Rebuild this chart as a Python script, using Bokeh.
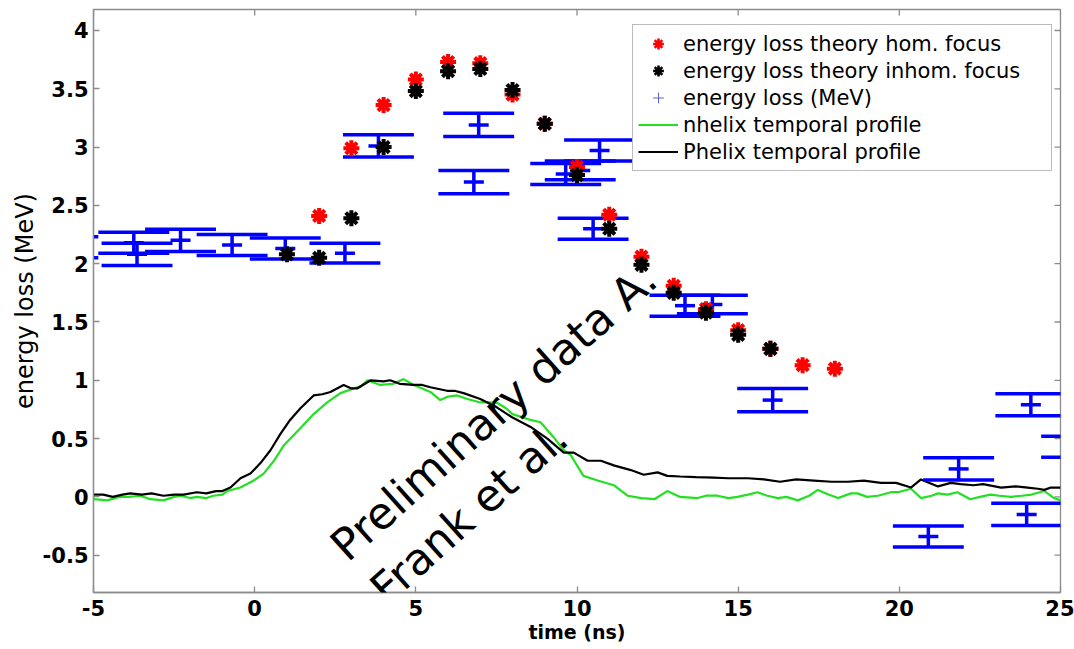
from bokeh.plotting import figure
from bokeh.models import FixedTicker, Range1d, Legend, LegendItem, Label
from bokeh.embed import file_html
from bokeh.resources import INLINE

# ---------------- data ----------------
hom_t = [2, 3, 4, 5, 6, 7, 8, 9, 10, 11, 12, 13, 14, 15, 16, 17, 18]
hom_e = [2.41, 2.99, 3.36, 3.58, 3.73, 3.72, 3.45, 3.20, 2.83, 2.42, 2.06, 1.81, 1.61, 1.43, 1.27, 1.13, 1.10]

inhom_t = [1, 2, 3, 4, 5, 6, 7, 8, 9, 10, 11, 12, 13, 14, 15, 16]
inhom_e = [2.08, 2.05, 2.39, 3.00, 3.48, 3.65, 3.67, 3.49, 3.20, 2.76, 2.30, 1.99, 1.75, 1.58, 1.39, 1.27]

meas_t = [-5.95, -3.75, -3.65, -2.3, -0.7, 0.95, 2.8, 3.84, 6.95, 6.8, 9.65, 10.1, 10.7,
          10.5, 13.35, 14.2, 16.07, 20.9, 21.84, 23.95, 24.08, 25.5]
meas_e = [2.14, 2.18, 2.08, 2.20, 2.16, 2.13, 2.09, 3.01, 3.19, 2.70, 2.77, 2.80, 2.97,
          2.30, 1.64, 1.65, 0.83, -0.34, 0.24, -0.15, 0.79, 0.43]
meas_err = [0.09, 0.09, 0.095, 0.095, 0.09, 0.09, 0.085, 0.095, 0.10, 0.10, 0.09, 0.08, 0.09,
            0.09, 0.09, 0.08, 0.10, 0.09, 0.095, 0.095, 0.095, 0.09]

phelix_t = [-5.0, -4.7, -4.4, -4.1, -3.86, -3.5, -3.2, -2.83, -2.5, -2.2, -1.8, -1.5, -1.2, -1.0,
            -0.75, -0.44, -0.13, 0.18, 0.49, 0.8, 1.1, 1.42, 1.83, 2.1, 2.35, 2.76, 3.0, 3.18, 3.6,
            4.0, 4.2, 4.5, 4.93, 5.2, 5.45, 5.97, 6.2, 6.48, 7.0, 7.5, 8.0, 8.56, 9.08, 9.59, 9.9,
            10.33, 10.74, 11.14, 11.67, 12.07, 12.5, 12.8, 13.2, 13.7, 14.24, 14.7, 15.3, 15.8,
            16.3, 16.8, 17.35, 17.9, 18.4, 18.9, 19.43, 19.9, 20.36, 20.67, 21.2, 21.6, 21.9,
            22.3, 22.6, 23.16, 23.6, 23.98, 24.3, 24.5, 24.7, 25.0]
phelix_v = [0.02, 0.02, 0.00, 0.02, 0.03, 0.02, 0.03, 0.01, 0.02, 0.02, 0.04, 0.03, 0.05, 0.05,
            0.08, 0.16, 0.20, 0.29, 0.40, 0.54, 0.66, 0.76, 0.87, 0.88, 0.90, 0.96, 0.93, 0.93, 1.00,
            0.99, 1.00, 0.97, 0.96, 0.96, 0.94, 0.91, 0.91, 0.89, 0.84, 0.77, 0.68, 0.60, 0.50, 0.38, 0.38,
            0.31, 0.31, 0.27, 0.23, 0.19, 0.21, 0.18, 0.175, 0.17, 0.165, 0.16, 0.16, 0.15,
            0.13, 0.15, 0.14, 0.13, 0.13, 0.14, 0.12, 0.12, 0.08, 0.15, 0.09, 0.12, 0.11,
            0.10, 0.11, 0.08, 0.09, 0.08, 0.07, 0.06, 0.08, 0.08]

nhelix_t = [-5.0, -4.57, -4.2, -3.9, -3.55, -3.24, -2.83, -2.5, -2.3, -2.0, -1.8, -1.5, -1.28, -1.0,
            -0.85, -0.44, -0.03, 0.28, 0.6, 0.9, 1.35, 1.83, 2.25, 2.66, 3.07, 3.3, 3.5, 3.9, 4.3,
            4.62, 4.93, 5.2, 5.45, 5.76, 6.0, 6.28, 6.6, 7.0, 7.5, 7.8, 8.0, 8.56, 8.87, 9.28, 9.59,
            9.8, 10.2, 10.64, 11.14, 11.57, 12.0, 12.4, 12.8, 13.2, 13.74, 14.0, 14.36, 14.7, 14.98,
            15.3, 15.6, 15.9, 16.23, 16.5, 16.85, 17.2, 17.47, 17.8, 18.1, 18.5, 18.7, 19.0, 19.34,
            19.74, 19.96, 20.36, 20.67, 21.0, 21.2, 21.5, 21.8, 22.2, 22.5, 22.83, 23.1, 23.46, 23.8,
            24.1, 24.5, 24.8, 25.0]
nhelix_v = [-0.02, -0.03, 0.0, 0.0, 0.01, -0.02, -0.03, 0.0, 0.01, -0.01, 0.0, -0.01, 0.01, 0.02,
            0.05, 0.08, 0.14, 0.20, 0.31, 0.44, 0.57, 0.71, 0.81, 0.89, 0.93, 0.95, 1.00, 0.96, 0.97,
            1.01, 0.96, 0.93, 0.90, 0.83, 0.86, 0.87, 0.84, 0.81, 0.81, 0.76, 0.71, 0.66, 0.64, 0.51, 0.40,
            0.36, 0.18, 0.14, 0.10, 0.01, -0.01, -0.02, 0.05, 0.00, -0.01, 0.01, 0.01, -0.01, 0.00,
            0.02, 0.04, 0.01, -0.01, 0.00, -0.03, 0.01, 0.06, 0.02, -0.01, 0.03, 0.03, 0.00, 0.01,
            0.04, 0.04, 0.07, -0.01, 0.01, 0.03, 0.02, 0.04, -0.02, 0.00, 0.02, 0.01, 0.00, 0.01,
            0.02, 0.05, -0.01, -0.03]

x_ticks = [-5, 0, 5, 10, 15, 20, 25]
x_tick_labels = ["-5", "0", "5", "10", "15", "20", "25"]
y_ticks = [-0.5, 0, 0.5, 1, 1.5, 2, 2.5, 3, 3.5, 4]
y_tick_labels = ["-0.5", "0", "0.5", "1", "1.5", "2", "2.5", "3", "3.5", "4"]

legend_labels = ["energy loss theory hom. focus", "energy loss theory inhom. focus",
                 "energy loss (MeV)", "nhelix temporal profile", "Phelix temporal profile"]
watermark = ["Preliminary data A.", "Frank et al."]

# ---------------- figure ----------------
FONT = "DejaVu Sans"
AXIS_GREY = "#8c8c8c"
BLUE = "#0000ff"
CAP_HALF = 1.1  # ns, half width of the error-bar caps
X0, X1, Y0, Y1 = -5, 25, -0.82, 4.18
TICK_PX = 6
FRAME_W, FRAME_H = 967, 583
NAN = float("nan")


def js_key(v):
    f = float(v)
    return str(int(f)) if f.is_integer() else repr(f)


def overrides(vals, labels):
    d = {}
    for v, lab in zip(vals, labels):
        d[float(v)] = lab
        d[js_key(v)] = lab
    return d


p = figure(width=1074, height=649, x_range=Range1d(X0, X1), y_range=Range1d(Y0, Y1),
           output_backend="svg", toolbar_location=None,
           min_border_left=93, min_border_right=14, min_border_top=9, min_border_bottom=57)
p.background_fill_color = "white"
p.border_fill_color = "white"
p.outline_line_color = AXIS_GREY
p.outline_line_width = 1.3
p.xgrid.visible = False
p.ygrid.visible = False


def style_axis(ax, ticks, labels):
    ax.ticker = FixedTicker(ticks=ticks)
    ax.major_label_overrides = overrides(ticks, labels)
    ax.axis_line_color = AXIS_GREY
    ax.axis_line_width = 1.3
    ax.major_tick_line_color = AXIS_GREY
    ax.major_tick_line_width = 1.3
    ax.major_tick_in = TICK_PX
    ax.major_tick_out = 0
    ax.minor_tick_line_color = None
    ax.major_label_text_font = FONT
    ax.major_label_text_font_style = "bold"
    ax.major_label_text_font_size = "21px"
    ax.major_label_text_color = "black"
    ax.axis_label_text_color = "black"
    ax.axis_label_text_font = FONT


xa = p.xaxis[0]
style_axis(xa, x_ticks, x_tick_labels)
xa.major_label_standoff = 7
xa.axis_label = "time (ns)"
xa.axis_label_text_font_style = "bold"
xa.axis_label_text_font_size = "19px"
xa.axis_label_standoff = 2

ya = p.yaxis[0]
style_axis(ya, y_ticks, y_tick_labels)
ya.major_label_standoff = 5
ya.axis_label = "energy loss (MeV)"
ya.axis_label_text_font_style = "normal"
ya.axis_label_text_font_size = "24px"
ya.axis_label_standoff = 1

# inward ticks on the top and right edges of the box
tick_dy = TICK_PX * (Y1 - Y0) / FRAME_H
tick_dx = TICK_PX * (X1 - X0) / FRAME_W
p.segment(x0=x_ticks, y0=[Y1] * len(x_ticks), x1=x_ticks, y1=[Y1 - tick_dy] * len(x_ticks),
          line_color=AXIS_GREY, line_width=1.3)
p.segment(x0=[X1] * len(y_ticks), y0=y_ticks, x1=[X1 - tick_dx] * len(y_ticks), y1=y_ticks,
          line_color=AXIS_GREY, line_width=1.3)

# temporal profiles
r_nhelix = p.line(nhelix_t, nhelix_v, line_color="#22e022", line_width=2.2)
r_phelix = p.line(phelix_t, phelix_v, line_color="black", line_width=2.2)

# measured energy loss with error bars
lo = [e - d for e, d in zip(meas_e, meas_err)]
hi = [e + d for e, d in zip(meas_e, meas_err)]
left = [t - CAP_HALF for t in meas_t]
right = [t + CAP_HALF for t in meas_t]
p.segment(x0=meas_t, y0=lo, x1=meas_t, y1=hi, line_color=BLUE, line_width=3.5)
p.segment(x0=left, y0=hi, x1=right, y1=hi, line_color=BLUE, line_width=3.5)
p.segment(x0=left, y0=lo, x1=right, y1=lo, line_color=BLUE, line_width=3.5)
p.scatter(meas_t, meas_e, marker="dash", size=20, line_color=BLUE, line_width=3.5)

# theory
p.scatter(hom_t, hom_e, marker="asterisk", size=16, line_color="#ff0000", line_width=4)
p.scatter(inhom_t, inhom_e, marker="asterisk", size=16, line_color="black", line_width=4)

# legend-only glyphs (a single NaN point each, so nothing shows in the plot)
l_hom = p.scatter([NAN], [NAN], marker="asterisk", line_color="#ff0000", line_width=2.6)
l_inhom = p.scatter([NAN], [NAN], marker="asterisk", line_color="black", line_width=2.6)
l_meas = p.scatter([NAN], [NAN], marker="cross", line_color="#6060d0", line_width=1)

legend = Legend(items=[
    LegendItem(label=legend_labels[0], renderers=[l_hom]),
    LegendItem(label=legend_labels[1], renderers=[l_inhom]),
    LegendItem(label=legend_labels[2], renderers=[l_meas]),
    LegendItem(label=legend_labels[3], renderers=[r_nhelix]),
    LegendItem(label=legend_labels[4], renderers=[r_phelix]),
], location=(539, 421))
legend.label_text_font = FONT
legend.label_text_font_size = "21px"
legend.label_text_color = "black"
legend.glyph_width = 40
legend.glyph_height = 27
legend.label_height = 27
legend.label_width = 363
legend.label_standoff = 5
legend.spacing = 0
legend.padding = 5
legend.margin = 0
legend.border_line_color = "#777777"
legend.border_line_width = 1.2
legend.background_fill_color = "white"
legend.background_fill_alpha = 1.0
p.add_layout(legend)

# watermark text
p.add_layout(Label(x=2.57, y=-0.47, text=watermark[0], angle=0.73, text_font=FONT,
                   text_font_size="44px", text_color="black", text_align="left",
                   text_baseline="alphabetic"))
p.add_layout(Label(x=3.8, y=-0.84, text=watermark[1], angle=0.73, text_font=FONT,
                   text_font_size="44px", text_color="black", text_align="left",
                   text_baseline="alphabetic"))

open("out.html", "w").write(file_html(p, INLINE))
